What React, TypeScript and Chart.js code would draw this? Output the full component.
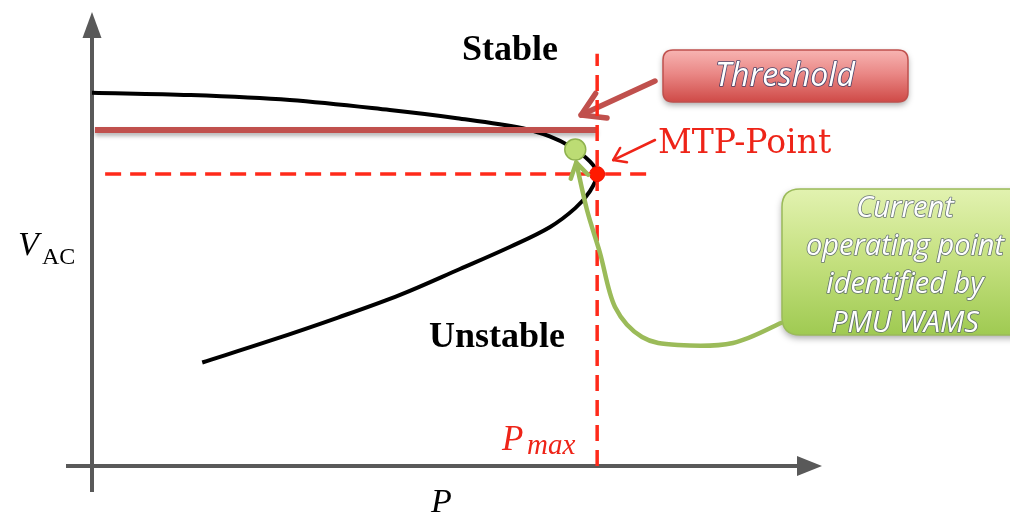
import React, { useEffect, useRef } from "react";
import { Chart, registerables } from "chart.js";

Chart.register(...registerables);

// P-V (nose) curve, traced from upper (stable) branch through the nose to the lower (unstable) branch
const curveP = [0, 13.4, 27.1, 40.8, 50.0, 59.0, 62.7, 65.5, 68.2, 69.2, 68.2, 66.2, 62.7, 57.3, 50.4, 42.2, 33.7, 24.4, 15.1];
const curveV = [82.2, 81.7, 80.6, 78.4, 76.6, 74.4, 72.6, 70.4, 67.1, 64.3, 60.5, 56.8, 52.6, 48.3, 43.4, 37.7, 32.7, 27.6, 22.8];

// Threshold line
const thresholdP = [0.4, 69.2];
const thresholdV = [74.0, 74.0];

// Maximum transfer point (MTP)
const pMax = 69.2;
const vMtp = 64.3;
const mtpDashP = [1.8, 76.2];
const pmaxDashV = [0, 90.8];

// Current operating point
const opP = 66.2;
const opV = 69.7;

const labels = {
  stable: "Stable",
  unstable: "Unstable",
  threshold: "Threshold",
  mtp: "MTP-Point",
  callout: ["Current", "operating point", "identified by", "PMU WAMS"],
};

const IDX_THR = 1;
const IDX_OP = 5;

function roundRect(ctx: CanvasRenderingContext2D, x: number, y: number, w: number, h: number, r: number) {
  ctx.beginPath();
  ctx.moveTo(x + r, y);
  ctx.lineTo(x + w - r, y);
  ctx.quadraticCurveTo(x + w, y, x + w, y + r);
  ctx.lineTo(x + w, y + h - r);
  ctx.quadraticCurveTo(x + w, y + h, x + w - r, y + h);
  ctx.lineTo(x + r, y + h);
  ctx.quadraticCurveTo(x, y + h, x, y + h - r);
  ctx.lineTo(x, y + r);
  ctx.quadraticCurveTo(x, y, x + r, y);
  ctx.closePath();
}

function chevron(ctx: CanvasRenderingContext2D, tx: number, ty: number, fx: number, fy: number, len: number, ang: number) {
  const a = Math.atan2(fy - ty, fx - tx);
  ctx.beginPath();
  ctx.moveTo(tx + len * Math.cos(a + ang), ty + len * Math.sin(a + ang));
  ctx.lineTo(tx, ty);
  ctx.lineTo(tx + len * Math.cos(a - ang), ty + len * Math.sin(a - ang));
  ctx.stroke();
}

function smoothPath(ctx: CanvasRenderingContext2D, pts: number[][]) {
  ctx.beginPath();
  ctx.moveTo(pts[0][0], pts[0][1]);
  for (let i = 0; i < pts.length - 1; i++) {
    const p0 = pts[i - 1] || pts[i];
    const p1 = pts[i];
    const p2 = pts[i + 1];
    const p3 = pts[i + 2] || p2;
    ctx.bezierCurveTo(
      p1[0] + (p2[0] - p0[0]) / 6,
      p1[1] + (p2[1] - p0[1]) / 6,
      p2[0] - (p3[0] - p1[0]) / 6,
      p2[1] - (p3[1] - p1[1]) / 6,
      p2[0],
      p2[1]
    );
  }
}

function outlinedText(ctx: CanvasRenderingContext2D, text: string, x: number, y: number, stroke: string) {
  ctx.strokeStyle = stroke;
  ctx.lineWidth = 1.6;
  ctx.lineJoin = "round";
  ctx.strokeText(text, x, y);
  ctx.fillStyle = "#ffffff";
  ctx.fillText(text, x, y);
}

const annotations = {
  id: "annotations",
  beforeDatasetsDraw(chart: any) {
    const ctx: CanvasRenderingContext2D = chart.ctx;
    const { left, right, top, bottom } = chart.chartArea;
    const X = (v: number) => chart.scales.x.getPixelForValue(v);
    const Y = (v: number) => chart.scales.y.getPixelForValue(v);
    ctx.save();
    // axes
    ctx.strokeStyle = "#595959";
    ctx.fillStyle = "#595959";
    ctx.lineWidth = 4;
    ctx.beginPath();
    ctx.moveTo(left, bottom + 26);
    ctx.lineTo(left, top + 20);
    ctx.stroke();
    ctx.beginPath();
    ctx.moveTo(left, top);
    ctx.lineTo(left - 9.5, top + 26);
    ctx.lineTo(left + 9.5, top + 26);
    ctx.closePath();
    ctx.fill();
    ctx.beginPath();
    ctx.moveTo(left - 26, bottom);
    ctx.lineTo(right - 20, bottom);
    ctx.stroke();
    ctx.beginPath();
    ctx.moveTo(right, bottom);
    ctx.lineTo(right - 25, bottom - 10);
    ctx.lineTo(right - 25, bottom + 10);
    ctx.closePath();
    ctx.fill();

    // Threshold callout box
    ctx.save();
    ctx.shadowColor = "rgba(0,0,0,0.35)";
    ctx.shadowBlur = 6;
    ctx.shadowOffsetY = 3;
    const g1 = ctx.createLinearGradient(0, 50, 0, 102);
    g1.addColorStop(0, "#f7b4b2");
    g1.addColorStop(0.45, "#ea8886");
    g1.addColorStop(1, "#cf4a47");
    ctx.fillStyle = g1;
    roundRect(ctx, 663, 50, 245, 52, 10);
    ctx.fill();
    ctx.restore();
    ctx.strokeStyle = "#c0504d";
    ctx.lineWidth = 1.5;
    roundRect(ctx, 663, 50, 245, 52, 10);
    ctx.stroke();

    // Threshold arrow
    const thrEndX = X(thresholdP[1]) - 16;
    const thrEndY = Y(thresholdV[1]) - 15;
    ctx.strokeStyle = "#c0504d";
    ctx.lineWidth = 5.5;
    ctx.lineCap = "round";
    ctx.lineJoin = "round";
    ctx.beginPath();
    ctx.moveTo(655, 81);
    ctx.lineTo(thrEndX, thrEndY);
    ctx.stroke();
    chevron(ctx, thrEndX, thrEndY, 655, 81, 26, 0.55);

    // MTP arrow
    const mx = X(pMax) + 16;
    const my = Y(vMtp) - 14;
    ctx.strokeStyle = "#ef2418";
    ctx.lineWidth = 2.5;
    ctx.beginPath();
    ctx.moveTo(655, 140);
    ctx.lineTo(mx, my);
    ctx.stroke();
    chevron(ctx, mx, my, 655, 140, 14, 0.6);

    // green callout box
    ctx.save();
    ctx.shadowColor = "rgba(0,0,0,0.35)";
    ctx.shadowBlur = 7;
    ctx.shadowOffsetY = 3;
    const g2 = ctx.createLinearGradient(0, 189, 0, 335);
    g2.addColorStop(0, "#e2f2b0");
    g2.addColorStop(0.5, "#c4e07e");
    g2.addColorStop(1, "#9fca52");
    ctx.fillStyle = g2;
    roundRect(ctx, 782, 189, 260, 146, 18);
    ctx.fill();
    ctx.restore();
    ctx.strokeStyle = "#9bbb59";
    ctx.lineWidth = 1.5;
    roundRect(ctx, 782, 189, 260, 146, 18);
    ctx.stroke();
    ctx.restore();
  },
  beforeDatasetDraw(chart: any, args: any) {
    const ctx: CanvasRenderingContext2D = chart.ctx;
    if (args.index === IDX_THR) {
      ctx.save();
      ctx.shadowColor = "rgba(0,0,0,0.3)";
      ctx.shadowBlur = 4;
      ctx.shadowOffsetY = 3;
    }
    if (args.index === IDX_OP) {
      const X = (v: number) => chart.scales.x.getPixelForValue(v);
      const Y = (v: number) => chart.scales.y.getPixelForValue(v);
      const tx = X(opP) + 1;
      const ty = Y(opV) + 13;
      const pts = [
        [781, 323],
        [733, 343],
        [678, 345],
        [642, 337],
        [615, 307],
        [600, 253],
        [587, 210],
        [tx, ty],
      ];
      ctx.save();
      ctx.strokeStyle = "#9bbb59";
      ctx.lineWidth = 4.5;
      ctx.lineCap = "round";
      ctx.lineJoin = "round";
      smoothPath(ctx, pts);
      ctx.stroke();
      chevron(ctx, tx, ty, 586, 206, 17, 0.55);
      ctx.restore();
    }
  },
  afterDatasetDraw(chart: any, args: any) {
    if (args.index === IDX_THR) chart.ctx.restore();
  },
  afterDatasetsDraw(chart: any) {
    const ctx: CanvasRenderingContext2D = chart.ctx;
    ctx.save();
    ctx.textBaseline = "alphabetic";
    // Stable / Unstable
    ctx.fillStyle = "#000";
    ctx.font = 'bold 36px "Liberation Serif"';
    ctx.textAlign = "center";
    ctx.fillText(labels.stable, 510, 60);
    ctx.fillText(labels.unstable, 497, 347);

    // axis labels
    ctx.textAlign = "left";
    ctx.font = 'italic 34px "Liberation Serif"';
    ctx.fillText("V", 18, 255);
    ctx.font = '24px "Liberation Serif"';
    ctx.fillText("AC", 42, 264);
    ctx.font = 'italic 34px "Liberation Serif"';
    ctx.fillText("P", 431, 512);

    // P_max
    ctx.fillStyle = "#ee2418";
    ctx.font = 'italic 35px "Liberation Serif"';
    ctx.fillText("P", 502, 450);
    ctx.font = 'italic 29px "Liberation Serif"';
    ctx.fillText("max", 527, 454);

    // MTP label
    ctx.font = '33px "DejaVu Serif"';
    ctx.fillStyle = "#ee2418";
    ctx.fillText(labels.mtp, 658, 153);

    // Threshold label
    ctx.textAlign = "center";
    ctx.font = 'italic 32px "Open Sans"';
    outlinedText(ctx, labels.threshold, 785, 86, "rgba(45,55,100,0.85)");

    // callout text
    ctx.font = 'italic 29px "Open Sans"';
    const baselines = [217, 255, 293, 332];
    labels.callout.forEach((t, i) => outlinedText(ctx, t, 905, baselines[i], "rgba(80,90,110,0.8)"));
    ctx.restore();
  },
};

export default function App() {
  const ref = useRef<HTMLCanvasElement | null>(null);
  useEffect(() => {
    const canvas = ref.current;
    if (!canvas) return;
    const chart = new Chart(canvas, {
      type: "scatter",
      data: {
        datasets: [
          {
            label: "PV curve",
            data: curveP.map((p, i) => ({ x: p, y: curveV[i] })),
            showLine: true,
            borderColor: "#000000",
            borderWidth: 4,
            tension: 0.35,
            pointRadius: 0,
            order: 6,
          },
          {
            label: "Threshold",
            data: thresholdP.map((p, i) => ({ x: p, y: thresholdV[i] })),
            showLine: true,
            borderColor: "#c0504d",
            borderWidth: 6,
            pointRadius: 0,
            order: 5,
          },
          {
            label: "V at MTP",
            data: mtpDashP.map((p) => ({ x: p, y: vMtp })),
            showLine: true,
            borderColor: "#ff2a1a",
            borderWidth: 3.5,
            borderDash: [16, 9],
            pointRadius: 0,
            order: 4,
          },
          {
            label: "Pmax",
            data: pmaxDashV.map((v) => ({ x: pMax, y: v })),
            showLine: true,
            borderColor: "#ff2a1a",
            borderWidth: 3.5,
            borderDash: [16, 9],
            pointRadius: 0,
            order: 4,
          },
          {
            label: "MTP point",
            data: [{ x: pMax, y: vMtp }],
            pointRadius: 7.5,
            backgroundColor: "#ff1a00",
            borderColor: "#f01000",
            borderWidth: 1,
            order: 2,
          },
          {
            label: "Operating point",
            data: [{ x: opP, y: opV }],
            pointRadius: 10.5,
            backgroundColor: "#bcdc74",
            borderColor: "#8fb24e",
            borderWidth: 1.5,
            order: 1,
          },
        ],
      },
      options: {
        responsive: false,
        animation: false,
        devicePixelRatio: 1,
        layout: { padding: { left: 92, right: 188, top: 10, bottom: 46 } },
        scales: {
          x: { type: "linear", min: 0, max: 100, display: false },
          y: { type: "linear", min: 0, max: 100, display: false },
        },
        plugins: { legend: { display: false }, tooltip: { enabled: false } },
        events: [],
      },
      plugins: [annotations],
    });
    return () => chart.destroy();
  }, []);
  return (
    <div style={{ position: "fixed", left: 0, top: 0, width: 1010, height: 512, background: "#fff" }}>
      <canvas ref={ref} width={1010} height={512} style={{ display: "block" }} />
    </div>
  );
}
